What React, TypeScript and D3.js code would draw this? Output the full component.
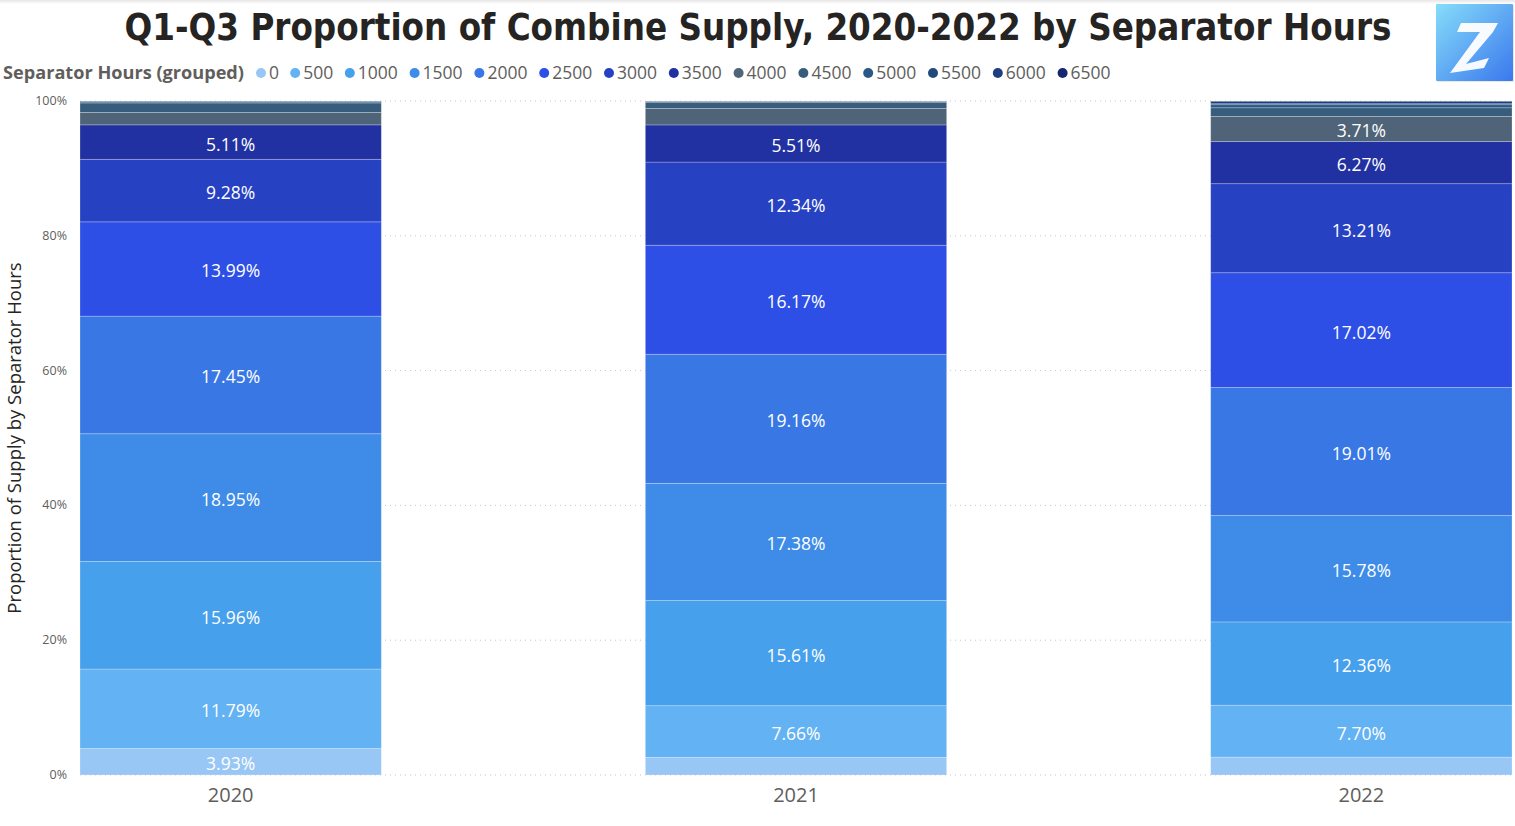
import React from "react";
import * as d3 from "d3";

const years = ["2020", "2021", "2022"];
const groups = ["0", "500", "1000", "1500", "2000", "2500", "3000", "3500", "4000", "4500", "5000", "5500", "6000", "6500"];
const share2020 = [3.93, 11.79, 15.96, 18.95, 17.45, 13.99, 9.28, 5.11, 1.85, 1.4, 0.15, 0.08, 0.04, 0.02];
const share2021 = [2.62, 7.66, 15.61, 17.38, 19.16, 16.17, 12.34, 5.51, 2.45, 0.92, 0.1, 0.04, 0.03, 0.01];
const share2022 = [2.65, 7.7, 12.36, 15.78, 19.01, 17.02, 13.21, 6.27, 3.71, 1.29, 0.45, 0.15, 0.35, 0.05];
const groupColors = ["#98C6F5", "#63B2F3", "#47A0EC", "#3E8CE8", "#3978E4", "#2D4FE6", "#2741C3", "#2131A1", "#4F6479", "#385C7B", "#285883", "#22497B", "#1D3E7F", "#172670"];
const yTicks = [0, 20, 40, 60, 80, 100];

const W = 1515;
const H = 826;

export default function App() {
  const rows = years.map((y, i) => {
    const src = [share2020, share2021, share2022][i];
    const r: any = { year: y };
    groups.forEach((g, j) => (r[g] = src[j]));
    return r;
  });
  const stack = d3.stack<any>().keys(groups)(rows);
  const x = d3.scaleBand().domain(years).range([80, 1512]).paddingInner(0.467).paddingOuter(0);
  const y = d3.scaleLinear().domain([0, 100]).range([775, 101]);

  // legend positions
  let cx = 261;
  const legendItems = groups.map((g, i) => {
    const item = { g, cx, color: groupColors[i] };
    cx += 9 + g.length * 10.2 + 15;
    return item;
  });

  const font = "'Open Sans', 'Noto Sans', sans-serif";

  return (
    <svg width={W} height={H} style={{ display: "block", position: "absolute", left: 0, top: 0, background: "#fff" }}>
      <defs>
        <linearGradient id="logoGrad" x1="0" y1="0" x2="1" y2="1">
          <stop offset="0" stopColor="#86DDF9" />
          <stop offset="1" stopColor="#3A78EE" />
        </linearGradient>
        <linearGradient id="topShade" x1="0" y1="0" x2="0" y2="1">
          <stop offset="0" stopColor="#e6e6e6" />
          <stop offset="1" stopColor="#ffffff" />
        </linearGradient>
      </defs>
      <rect x={0} y={0} width={W} height={H} fill="#fff" />
      <rect x={0} y={0} width={W} height={4} fill="url(#topShade)" />

      {/* Title */}
      <text
        x={758}
        y={40}
        textAnchor="middle"
        fontFamily="'DejaVu Sans Condensed', 'DejaVu Sans', sans-serif"
        fontWeight="bold"
        fontSize={38}
        fill="#252423"
        textLength={1267}
        lengthAdjust="spacingAndGlyphs"
      >
        Q1-Q3 Proportion of Combine Supply, 2020-2022 by Separator Hours
      </text>

      {/* Logo */}
      <rect x={1437} y={5} width={77} height={77} fill="#d8d8d8" opacity={0.6} />
      <rect x={1436} y={4} width={77} height={77} fill="url(#logoGrad)" rx={1} />
      <path d="M1461,23 L1498,23 L1493,32 L1466,64 L1489,58 L1484,68 L1450,73 L1480,32 L1457,32 Z" fill="#ffffff" opacity={0.95} />

      {/* Legend */}
      <text x={3} y={79} fontFamily={font} fontWeight="bold" fontSize={17.5} fill="#605E5C" textLength={241} lengthAdjust="spacingAndGlyphs">
        Separator Hours (grouped)
      </text>
      {legendItems.map((it) => (
        <g key={it.g}>
          <circle cx={it.cx} cy={73} r={5} fill={it.color} />
          <text
            x={it.cx + 8}
            y={79}
            fontFamily={font}
            fontSize={17.5}
            fill="#605E5C"
            textLength={it.g.length * 10}
            lengthAdjust="spacingAndGlyphs"
          >
            {it.g}
          </text>
        </g>
      ))}

      {/* Gridlines */}
      {yTicks.map((t) => (
        <line
          key={t}
          x1={80}
          x2={1515}
          y1={y(t)}
          y2={y(t)}
          stroke="#C8C6C4"
          strokeWidth={1}
          strokeDasharray="1 4"
        />
      ))}
      {yTicks.map((t) => (
        <text
          key={"l" + t}
          x={67}
          y={y(t) + 4}
          textAnchor="end"
          fontFamily={font}
          fontSize={12.5}
          fill="#605E5C"
        >
          {t + "%"}
        </text>
      ))}
      <text
        transform={`translate(21,438) rotate(-90)`}
        textAnchor="middle"
        fontFamily={font}
        fontSize={18.5}
        fill="#252423"
      >
        Proportion of Supply by Separator Hours
      </text>

      {/* Bars */}
      {stack.map((layer, li) => (
        <g key={layer.key}>
          {layer.map((d, di) => {
            const yr = years[di];
            const x0 = x(yr) as number;
            const y0 = y(d[1]);
            const h = y(d[0]) - y(d[1]);
            const v = d[1] - d[0];
            return (
              <g key={yr}>
                <rect x={x0} y={y0} width={x.bandwidth()} height={h} fill={groupColors[li]} stroke="rgba(255,255,255,0.3)" strokeWidth={0.8} />
                {v >= 3 && (
                  <text
                    x={x0 + x.bandwidth() / 2}
                    y={y0 + h / 2 + 8.5}
                    textAnchor="middle"
                    fontFamily={font}
                    fontSize={17.5}
                    fill="#ffffff"
                  >
                    {v.toFixed(2) + "%"}
                  </text>
                )}
              </g>
            );
          })}
        </g>
      ))}

      {/* X labels */}
      {years.map((yr) => (
        <text
          key={yr}
          x={(x(yr) as number) + x.bandwidth() / 2}
          y={802}
          textAnchor="middle"
          fontFamily={font}
          fontSize={20}
          fill="#605E5C"
        >
          {yr}
        </text>
      ))}
    </svg>
  );
}
